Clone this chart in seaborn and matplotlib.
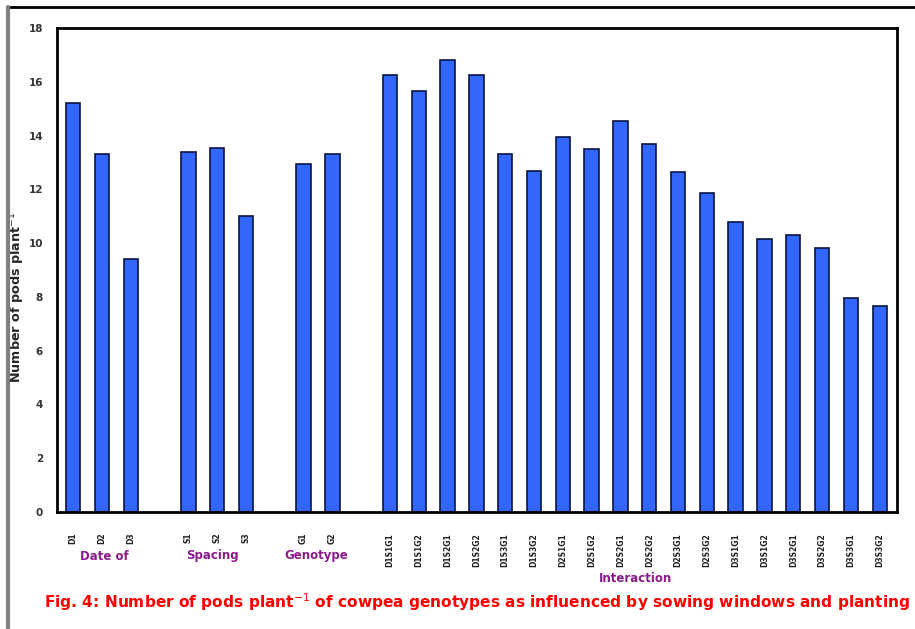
import matplotlib
matplotlib.use("Agg")
import matplotlib.pyplot as plt
import seaborn as sns
import pandas as pd
from matplotlib.lines import Line2D

sns.set_style("white")
plt.rcParams['font.family'] = ['DejaVu Sans']

# Data
date_labels = ["D1", "D2", "D3"]
date_values = [15.2, 13.3, 9.4]
spacing_labels = ["S1", "S2", "S3"]
spacing_values = [13.4, 13.55, 11.0]
genotype_labels = ["G1", "G2"]
genotype_values = [12.95, 13.3]
inter_labels = ["D1S1G1", "D1S1G2", "D1S2G1", "D1S2G2", "D1S3G1", "D1S3G2",
                "D2S1G1", "D2S1G2", "D2S2G1", "D2S2G2", "D2S3G1", "D2S3G2",
                "D3S1G1", "D3S1G2", "D3S2G1", "D3S2G2", "D3S3G1", "D3S3G2"]
inter_values = [16.25, 15.65, 16.8, 16.25, 13.3, 12.7,
                13.95, 13.5, 14.55, 13.7, 12.65, 11.85,
                10.8, 10.15, 10.3, 9.8, 7.95, 7.65]
group_names = ["Date of", "Spacing", "Genotype", "Interaction"]
y_ticks = [0, 2, 4, 6, 8, 10, 12, 14, 16, 18]

labels = date_labels + spacing_labels + genotype_labels + inter_labels
values = date_values + spacing_values + genotype_values + inter_values
df = pd.DataFrame({"trt": labels, "pods": values})
order = date_labels + [" "] + spacing_labels + ["  "] + genotype_labels + ["   "] + inter_labels

fig = plt.figure(figsize=(9.15, 6.29), dpi=100)
ax = fig.add_axes([57/915, 1-512/629, 840/915, 484/629])
sns.barplot(data=df, x="trt", y="pods", order=order, color="#3366FF",
            width=0.5, edgecolor="#0a1440", linewidth=1.2, saturation=1, ax=ax)

ax.set_xlim(-0.56, 28.6)
ax.set_ylim(0, 18)
ax.set_yticks(y_ticks)
ax.set_yticklabels([str(t) for t in y_ticks], fontsize=7.5, fontweight="bold", color="#333333")
ax.tick_params(axis="y", direction="out", length=4, width=1.5, color="#555555", pad=6)
ax.set_xticks(range(len(order)))
ax.set_xticklabels(order, rotation=90, fontsize=5.5, fontweight="bold", color="#222222")
ax.tick_params(axis="x", length=0, pad=15)
ax.set_xlabel("")
ax.set_ylabel("Number of pods plant$^{-1}$", fontsize=9.2, fontweight="bold")
ax.yaxis.set_label_coords((27 - 57) / 840, (512 - 297) / 484)
for s in ax.spines.values():
    s.set_visible(True)
    s.set_color("black")
    s.set_linewidth(2)

# group labels
purple = "#8B1A8B"
fig.text(104/915, 1-556/629, group_names[0], color=purple, fontsize=8.5, fontweight="bold", ha="center", va="center")
fig.text(212/915, 1-556/629, group_names[1], color=purple, fontsize=8.5, fontweight="bold", ha="center", va="center")
fig.text(316/915, 1-556/629, group_names[2], color=purple, fontsize=8.5, fontweight="bold", ha="center", va="center")
fig.text(636/915, 1-579/629, group_names[3], color=purple, fontsize=8.5, fontweight="bold", ha="center", va="center")

fig.text(477/915, 1-602/629,
         "Fig. 4: Number of pods plant$^{-1}$ of cowpea genotypes as influenced by sowing windows and planting",
         color="red", fontsize=11.1, fontweight="bold", ha="center", va="center")

# outer frame lines
fig.add_artist(Line2D([7/915, 1], [1-7/629, 1-7/629], color="black", linewidth=2, transform=fig.transFigure))
fig.add_artist(Line2D([8/915, 8/915], [0, 1-7/629], color="#808080", linewidth=3, transform=fig.transFigure))

fig.savefig("out.png", dpi=100)
